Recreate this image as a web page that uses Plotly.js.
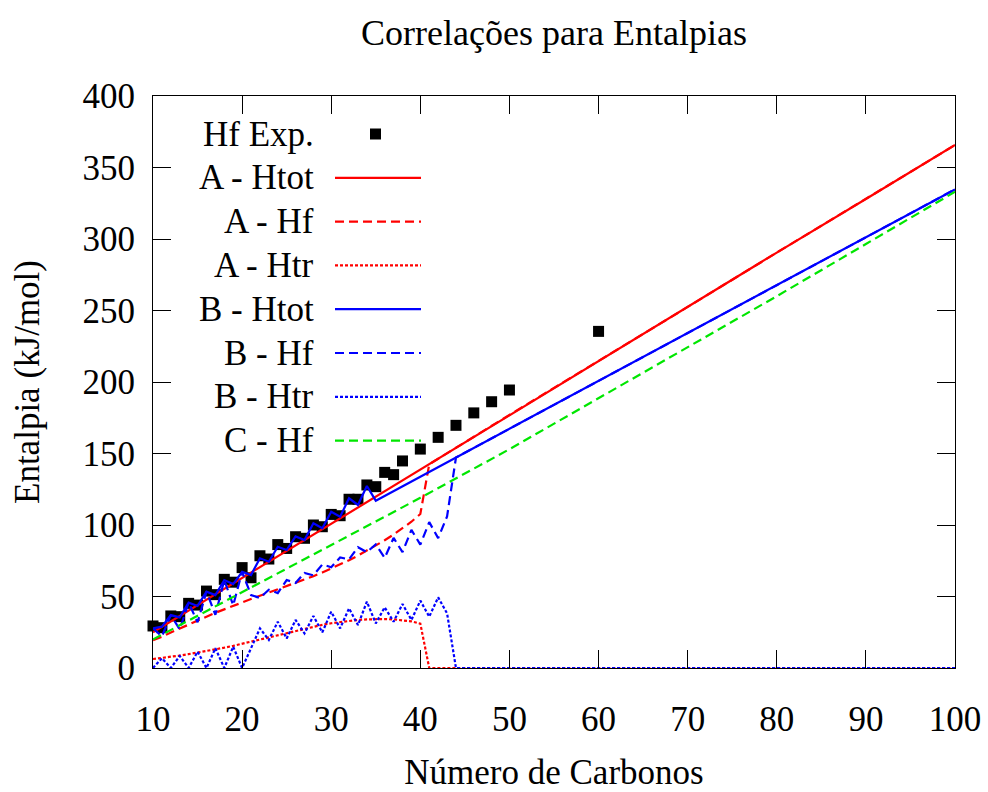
<!DOCTYPE html>
<html>
<head>
<meta charset="utf-8">
<script src="https://cdn.plot.ly/plotly-3.0.1.min.js"></script>
<style>html,body{margin:0;padding:0;background:#fff;}#chart{width:988px;height:792px;}</style>
</head>
<body>
<div id="chart"></div>
<script>
// ---- data ----
const expX = [10,11,12,13,14,15,16,17,18,19,20,21,22,23,24,25,26,27,28,29,30,31,32,33,34,35,36,37,38,40,42,44,46,48,50,60];
const expY = [29.4,28.2,36.4,35.9,45.2,44,53.8,51.3,62,60,70.2,63.1,78.5,76.2,86.3,83.6,91.8,90.7,100,98.8,107.4,106.5,118,118,128,126.8,136.8,135.2,144.8,153.1,161.3,169.7,178.4,186.2,194.4,235.4];

const aTotX = [10,20,30,40,50,60,70,80,90,100];
const aTotY = [25,63,101,139,177,214.5,252.5,290.5,328,365.7];

const aHfX = [10,11,12,13,14,15,16,17,18,19,20,21,22,23,24,25,26,27,28,29,30,31,32,33,34,35,36,37,38,39,40,41,50,60,70,80,90,100];
const aHfY = [19.5,21.8,24.8,27.7,30.5,33.3,35.9,38.6,41.1,43.6,45.9,48.2,50.5,52.7,55.1,57.3,59.4,61.8,64.2,66.8,69.5,72.4,75.4,78.6,82,85.6,89.3,93.3,97.6,102.3,107.7,142.5,177,214.5,252.5,290.5,328,365.7];

const aTrX = [10,11,12,13,14,15,16,17,18,19,20,21,22,23,24,25,26,27,28,29,30,31,32,33,34,35,36,37,38,39,40,41,100];
const aTrY = [6.3,7,7.8,8.7,9.7,10.7,11.8,12.9,14.2,15.5,17,18.5,20,21.6,23,24.6,26.2,27.6,29,30.2,31.3,32.2,33,33.6,34,34.2,34.2,34,33.5,32.6,31,0,0];

const bTotX = [10,11,12,13,14,15,16,17,18,19,20,21,22,23,24,25,26,27,28,29,30,31,32,33,34,35,40,44,50,60,70,80,90,100];
const bTotY = [27.7,28.9,37,35.4,45.7,43.4,53.4,51,61.5,58.7,67.3,65,76.7,74.3,84.8,82.5,92,89.5,101.2,97.7,109.3,105.8,118.7,114,127.3,117,133.8,147.2,167.2,200.7,234.2,267.7,301.2,334.7];

const bHfX = [10,11,12,13,14,15,16,17,18,19,20,21,22,23,24,25,26,27,28,29,30,31,32,33,34,35,36,37,38,39,40,41,42,43,44,50,60,70,80,90,100];
const bHfY = [27.7,22.1,37,27,45.7,32,53.4,37.2,61.5,43.8,67.3,51,49,54.7,52.4,61.5,59.5,66.5,64.8,72.4,70.5,77.3,76,84.5,81,86.5,77,91,81,96.6,86.3,102,90.8,106,147.2,167.2,200.7,234.2,267.7,301.2,334.7];

const bTrX = [10,11,12,13,14,15,16,17,18,19,20,21,22,23,24,25,26,27,28,29,30,31,32,33,34,35,36,37,38,39,40,41,42,43,44,100];
const bTrY = [0,6.8,0,8.4,0,11.4,0,13.8,0,14.9,0,14,27.7,19.6,32.4,20.7,33.6,24.2,36.4,24.9,39.4,27.7,41.7,30,46.4,31.2,42.4,32.4,44.8,33.6,47.1,35.9,49.4,38.2,0,0];

const cHfX = [10,20,30,40,50,60,70,80,90,100];
const cHfY = [20,53,85.5,119,153,188.5,224,260,296.5,333];

const xTicks = [10,20,30,40,50,60,70,80,90,100];
const yTicks = [0,50,100,150,200,250,300,350,400];

const seriesNames = ['Hf Exp.','A - Htot','A - Hf','A - Htr','B - Htot','B - Hf','B - Htr','C - Hf'];

// ---- styles ----
const RED = '#ff0000', BLUE = '#0000ff', GREEN = '#00e600';
const DASH = '9px,5px', DOT = '3px,2px';
const FONT = 'Liberation Serif, Times New Roman, serif';
const styles = [
  null,
  {color: RED, dash: 'solid'},
  {color: RED, dash: DASH},
  {color: RED, dash: DOT},
  {color: BLUE, dash: 'solid'},
  {color: BLUE, dash: DASH},
  {color: BLUE, dash: DOT},
  {color: GREEN, dash: DASH}
];
const lineData = [null,[aTotX,aTotY],[aHfX,aHfY],[aTrX,aTrY],[bTotX,bTotY],[bHfX,bHfY],[bTrX,bTrY],[cHfX,cHfY]];

const traces = [{
  x: expX, y: expY, type: 'scatter', mode: 'markers', name: seriesNames[0],
  marker: {symbol: 'square', size: 11, color: '#000'}, cliponaxis: false, showlegend: false
}];
for (let i = 1; i < seriesNames.length; i++) {
  traces.push({
    x: lineData[i][0], y: lineData[i][1], type: 'scatter', mode: 'lines', name: seriesNames[i],
    line: {color: styles[i].color, width: 2.2, dash: styles[i].dash}, showlegend: false
  });
}

// ---- hand-made gnuplot style key (text left, sample right) ----
const W = 988, H = 792, L = 153, R = 955, T = 96, B = 668;
const px2x = p => (p - L) / (R - L);
const py2y = p => (B - p) / (B - T);
const annotations = [], shapes = [];
for (let i = 0; i < seriesNames.length; i++) {
  const yp = 134 + i * 43.8;
  annotations.push({
    xref: 'paper', yref: 'paper', x: px2x(316), y: py2y(yp), xanchor: 'right', yanchor: 'middle',
    text: seriesNames[i], showarrow: false, font: {family: FONT, size: 35, color: '#000'}
  });
  if (i === 0) {
    shapes.push({type: 'rect', xref: 'paper', yref: 'paper',
      x0: px2x(370), x1: px2x(381), y0: py2y(139.5), y1: py2y(128.5),
      fillcolor: '#000', line: {width: 0}});
  } else {
    shapes.push({type: 'line', xref: 'paper', yref: 'paper',
      x0: px2x(335), x1: px2x(421), y0: py2y(yp), y1: py2y(yp),
      line: {color: styles[i].color, width: 2.2, dash: styles[i].dash}});
  }
}

const layout = {
  width: W, height: H,
  margin: {l: L, r: W - R, t: T, b: H - B},
  paper_bgcolor: '#fff', plot_bgcolor: '#fff',
  font: {family: FONT, size: 35, color: '#000'},
  title: {text: 'Correlações para Entalpias', x: 0.5, xanchor: 'center', y: 1 - 32 / H, yanchor: 'middle',
          xref: 'paper', font: {family: FONT, size: 36, color: '#000'}},
  xaxis: {
    range: [10, 100], tickvals: xTicks, ticktext: xTicks.map(String),
    ticks: 'inside', ticklen: 18, tickwidth: 1, tickcolor: '#000',
    showline: true, linecolor: '#000', linewidth: 1, mirror: 'ticks',
    showgrid: false, zeroline: false, ticklabelstandoff: 20,
    title: {text: 'Número de Carbonos', standoff: 46, font: {family: FONT, size: 35, color: '#000'}},
    tickfont: {family: FONT, size: 35, color: '#000'}
  },
  yaxis: {
    range: [0, 400], tickvals: yTicks, ticktext: yTicks.map(String),
    ticks: 'inside', ticklen: 18, tickwidth: 1, tickcolor: '#000',
    showline: true, linecolor: '#000', linewidth: 1, mirror: 'ticks',
    showgrid: false, zeroline: false, ticklabelstandoff: 10,
    title: {text: 'Entalpia (kJ/mol)', standoff: 32, font: {family: FONT, size: 35, color: '#000'}},
    tickfont: {family: FONT, size: 35, color: '#000'}
  },
  showlegend: false,
  annotations: annotations,
  shapes: shapes
};

Plotly.newPlot('chart', traces, layout, {displayModeBar: false, staticPlot: true});
</script>
</body>
</html>
